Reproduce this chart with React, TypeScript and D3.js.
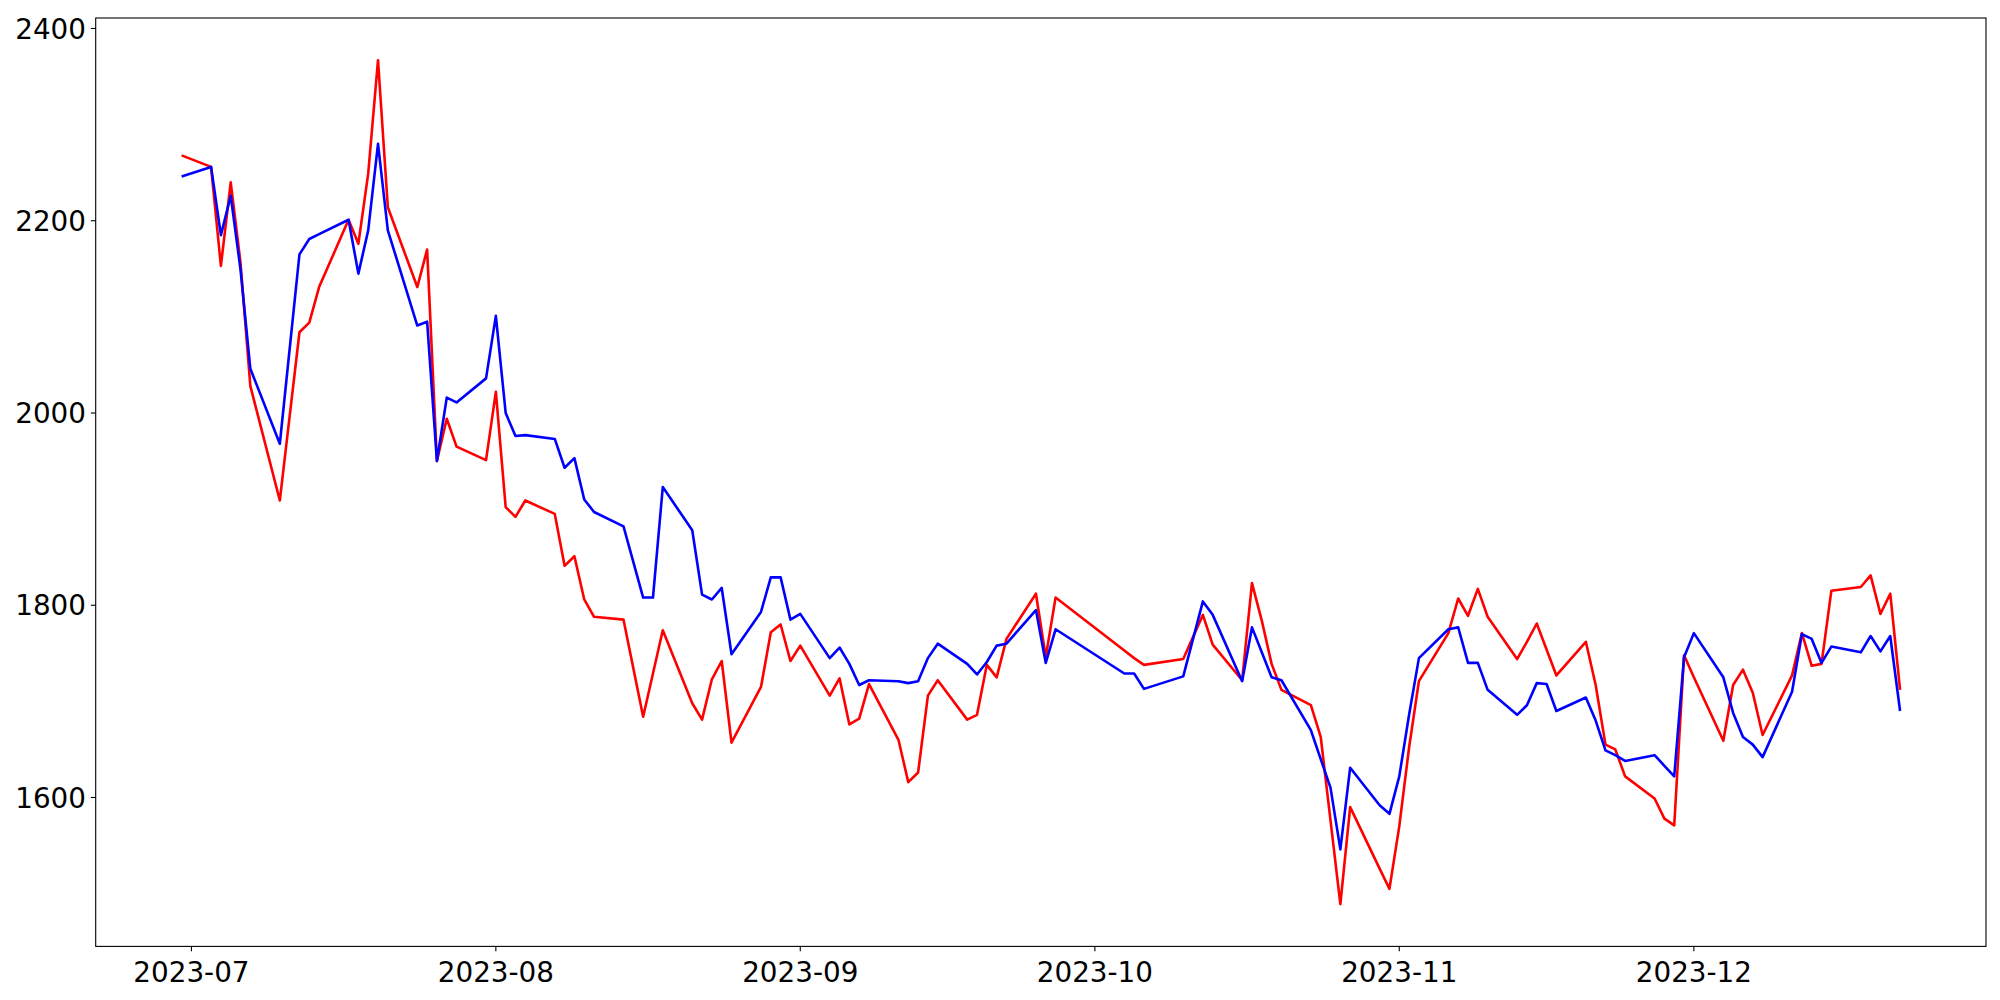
import React from "react";
import * as d3 from "d3";

const dates: string[] = [
  "2023-06-30","2023-07-03","2023-07-04","2023-07-05","2023-07-06","2023-07-07",
  "2023-07-10","2023-07-12","2023-07-13","2023-07-14",
  "2023-07-17","2023-07-18","2023-07-19","2023-07-20","2023-07-21",
  "2023-07-24","2023-07-25","2023-07-26","2023-07-27","2023-07-28",
  "2023-07-31","2023-08-01","2023-08-02","2023-08-03","2023-08-04",
  "2023-08-07","2023-08-08","2023-08-09","2023-08-10","2023-08-11",
  "2023-08-14","2023-08-16","2023-08-17","2023-08-18",
  "2023-08-21","2023-08-22","2023-08-23","2023-08-24","2023-08-25",
  "2023-08-28","2023-08-29","2023-08-30","2023-08-31","2023-09-01",
  "2023-09-04","2023-09-05","2023-09-06","2023-09-07","2023-09-08",
  "2023-09-11","2023-09-12","2023-09-13","2023-09-14","2023-09-15",
  "2023-09-18","2023-09-19","2023-09-20","2023-09-21","2023-09-22",
  "2023-09-25","2023-09-26","2023-09-27",
  "2023-10-04","2023-10-05","2023-10-06",
  "2023-10-10","2023-10-12","2023-10-13",
  "2023-10-16","2023-10-17","2023-10-18","2023-10-19","2023-10-20",
  "2023-10-23","2023-10-24","2023-10-25","2023-10-26","2023-10-27",
  "2023-10-30","2023-10-31","2023-11-01","2023-11-02","2023-11-03",
  "2023-11-06","2023-11-07","2023-11-08","2023-11-09","2023-11-10",
  "2023-11-13","2023-11-14","2023-11-15","2023-11-16","2023-11-17",
  "2023-11-20","2023-11-21","2023-11-22","2023-11-23","2023-11-24",
  "2023-11-27","2023-11-28","2023-11-29","2023-11-30","2023-12-01",
  "2023-12-04","2023-12-05","2023-12-06","2023-12-07","2023-12-08",
  "2023-12-11","2023-12-12","2023-12-13","2023-12-14","2023-12-15",
  "2023-12-18","2023-12-19","2023-12-20","2023-12-21","2023-12-22",
];

const redValues: number[] = [
  2268, 2256, 2153, 2240, 2156, 2028,
  1909, 2084, 2094, 2131,
  2201, 2176, 2249, 2367, 2214,
  2131, 2170, 1950, 1994, 1965,
  1951, 2022, 1902, 1892, 1909,
  1895, 1841, 1851, 1806, 1788,
  1785, 1684, 1729, 1774,
  1698, 1681, 1723, 1742, 1657,
  1715, 1772, 1780, 1742, 1758,
  1706, 1724, 1676, 1682, 1718,
  1660, 1616, 1626, 1706, 1722,
  1681, 1686, 1738, 1725, 1765,
  1812, 1746, 1808,
  1753, 1745, 1738,
  1744, 1790, 1759,
  1722, 1823, 1784, 1739, 1712,
  1696, 1663, 1576, 1489, 1590,
  1526, 1505, 1570, 1652, 1721,
  1771, 1807, 1789, 1817, 1788,
  1744, 1762, 1781, 1754, 1727,
  1762, 1717, 1655, 1650, 1622,
  1599, 1578, 1571, 1748, 1725,
  1659, 1717, 1733, 1709, 1665,
  1727, 1771, 1737, 1739, 1815,
  1819, 1831, 1791, 1812, 1712,
];

const blueValues: number[] = [
  2246, 2256, 2185, 2226, 2149, 2046,
  1968, 2165, 2181, 2186,
  2201, 2145, 2190, 2280, 2190,
  2091, 2095, 1950, 2016, 2011,
  2036, 2101, 2000, 1976, 1977,
  1973, 1943, 1953, 1910, 1897,
  1882, 1808, 1808, 1923,
  1878, 1811, 1806, 1818, 1749,
  1793, 1829, 1829, 1785, 1791,
  1745, 1756, 1739, 1717, 1722,
  1721, 1719, 1721, 1745, 1760,
  1739, 1728, 1741, 1758, 1760,
  1795, 1740, 1775,
  1729, 1729, 1713,
  1726, 1804, 1790,
  1721, 1777, 1751, 1725, 1722,
  1670, 1640, 1610, 1546, 1631,
  1592, 1583, 1622, 1686, 1745,
  1775, 1777, 1740, 1740, 1712,
  1686, 1696, 1719, 1718, 1690,
  1704, 1680, 1649, 1644, 1638,
  1644, 1633, 1622, 1746, 1771,
  1725, 1688, 1663, 1655, 1642,
  1710, 1770, 1765, 1740, 1757,
  1751, 1768, 1752, 1768, 1690,
];

const yTicks: number[] = [1600, 1800, 2000, 2200, 2400];
const xTickLabels: string[] = ["2023-07", "2023-08", "2023-09", "2023-10", "2023-11", "2023-12"];

const W = 2000;
const H = 1000;
const M = { left: 95.7, right: 1986, top: 18, bottom: 946.4 };
const FONT = "DejaVu Sans";
const FS = 27.8;

const parse = (s: string) => {
  const [y, m, d] = s.split("-").map(Number);
  return new Date(Date.UTC(y, m - 1, d || 1));
};

export default function App() {
  const xs = dates.map(parse);
  const x0 = +xs[0];
  const x1 = +xs[xs.length - 1];
  const dx = (x1 - x0) * 0.05;
  const x = d3.scaleUtc().domain([new Date(x0 - dx), new Date(x1 + dx)]).range([M.left, M.right]);

  const all = redValues.concat(blueValues);
  const mn = d3.min(all) as number;
  const mx = d3.max(all) as number;
  const dy = (mx - mn) * 0.05;
  const y = d3.scaleLinear().domain([mn - dy, mx + dy]).range([M.bottom, M.top]);

  const line = d3
    .line<number>()
    .x((_, i) => x(xs[i]))
    .y((v) => y(v));

  const tickLen = 4.86;
  const pad = 4.86;

  return (
    <svg
      width={W}
      height={H}
      style={{ position: "absolute", left: 0, top: 0, display: "block", background: "#fff" }}
    >
      <rect x={0} y={0} width={W} height={H} fill="#fff" />
      <path d={line(redValues) || ""} fill="none" stroke="#ff0000" strokeWidth={2.6} strokeLinejoin="round" strokeLinecap="butt" />
      <path d={line(blueValues) || ""} fill="none" stroke="#0000ff" strokeWidth={2.6} strokeLinejoin="round" strokeLinecap="butt" />
      <rect
        x={M.left}
        y={M.top}
        width={M.right - M.left}
        height={M.bottom - M.top}
        fill="none"
        stroke="#000"
        strokeWidth={1.1}
      />
      {yTicks.map((t) => (
        <g key={"y" + t}>
          <line x1={M.left - tickLen} x2={M.left} y1={y(t)} y2={y(t)} stroke="#000" strokeWidth={1.1} />
          <text
            x={M.left - tickLen - pad}
            y={y(t) + FS * 0.365}
            textAnchor="end"
            fontFamily={FONT}
            fontSize={FS}
            fill="#000"
          >
            {t}
          </text>
        </g>
      ))}
      {xTickLabels.map((lab) => {
        const px = x(parse(lab));
        return (
          <g key={lab}>
            <line x1={px} x2={px} y1={M.bottom} y2={M.bottom + tickLen} stroke="#000" strokeWidth={1.1} />
            <text
              x={px}
              y={M.bottom + tickLen + pad + FS * 0.93}
              textAnchor="middle"
              fontFamily={FONT}
              fontSize={FS}
              fill="#000"
            >
              {lab}
            </text>
          </g>
        );
      })}
    </svg>
  );
}
